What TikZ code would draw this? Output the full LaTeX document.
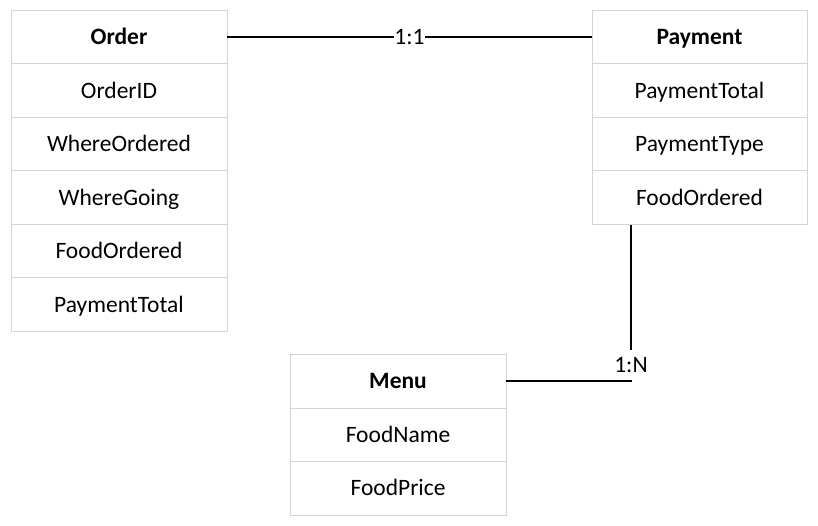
\documentclass[tikz,border=0pt]{standalone}
\usepackage{fontspec}
\setmainfont{Carlito}
\definecolor{rowline}{RGB}{212,212,212}
\begin{document}
\begin{tikzpicture}[x=1pt,y=-1pt,
  row/.style={draw=rowline,line width=0.9pt,fill=white,minimum width=216pt,minimum height=53.5pt,inner sep=0pt,text height=16pt,text depth=1pt,font=\fontsize{23.5}{28}\selectfont,anchor=north},
  hdr/.style={row,font=\fontsize{23.5}{28}\selectfont\bfseries},
  conn/.style={line width=1.8pt,black,line join=miter},
  lbl/.style={fill=white,inner xsep=0.5pt,inner ysep=0pt,font=\fontsize{23.5}{28}\selectfont}]
\useasboundingbox (0,0) rectangle (818,526);
% Order
\node[hdr] (o0) at (119,10) {Order};
\node[row] (o1) at (119,63.5) {OrderID};
\node[row] (o2) at (119,117) {WhereOrdered};
\node[row] (o3) at (119,170.5) {WhereGoing};
\node[row] (o4) at (119,224) {FoodOrdered};
\node[row] (o5) at (119,277.5) {PaymentTotal};
% Payment
\node[hdr,minimum width=215pt] (p0) at (699.5,10) {Payment};
\node[row,minimum width=215pt] (p1) at (699.5,63.5) {PaymentTotal};
\node[row,minimum width=215pt] (p2) at (699.5,117) {PaymentType};
\node[row,minimum width=215pt] (p3) at (699.5,170.5) {FoodOrdered};
% Menu
\node[hdr] (m0) at (398,354) {Menu};
\node[row] (m1) at (398,407.5) {FoodName};
\node[row] (m2) at (398,461) {FoodPrice};
% connectors
\draw[conn] (o0.east) -- node[lbl,text height=15pt,text depth=1pt] (l1) {1:1} (p0.west);
\coordinate (bend) at (631,380);
\draw[conn] (m0.east) -- (m0.east -| bend) -- (p3.south -| bend);
\node[lbl,minimum height=30pt] (l2) at (631,365) {1:N};
\end{tikzpicture}
\end{document}
